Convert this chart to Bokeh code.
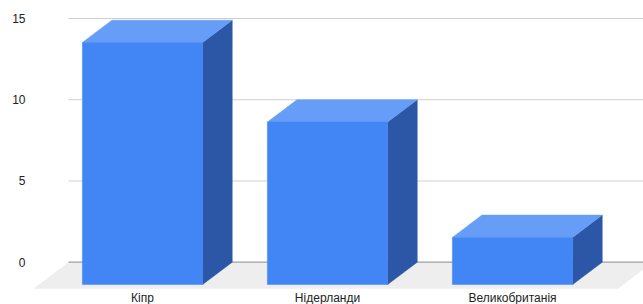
from bokeh.plotting import figure
from bokeh.models import Range1d, FixedTicker, ColumnDataSource
from bokeh.core.properties import value
from bokeh.embed import file_html
from bokeh.resources import INLINE

# ---- data ----
categories = ["Кіпр", "Нідерланди", "Великобританія"]
values = [14.9, 10.0, 2.9]
y_ticks = [0, 5, 10, 15]

# ---- layout / style constants ----
FRONT = "#4285f4"
TOP = "#669df6"
SIDE = "#2b57a6"
FLOOR = "#eeeeee"
GRID = "#d0d0d0"
BASE = "#9e9e9e"

bar_w = 0.65          # width of front face (category units)
bar_dx = 0.16         # depth offset in x (category units)
bar_dy = 1.373        # depth offset in y (value units)
floor_dx = 0.19
floor_dy = 1.64
back_left = -0.40
back_right = 2.76

p = figure(width=643, height=304, output_backend="svg", toolbar_location=None,
           x_range=Range1d(-0.6054, 2.708), y_range=Range1d(-2.605, 16.11),
           x_axis_location=None, min_border_left=30, min_border_right=0,
           min_border_top=0, min_border_bottom=0)
p.outline_line_color = None
p.xgrid.visible = False
p.ygrid.visible = False

ax = p.yaxis[0]
ax.ticker = FixedTicker(ticks=y_ticks)
ax.axis_line_color = None
ax.major_tick_line_color = None
ax.minor_tick_line_color = None
ax.major_tick_out = 0
ax.major_tick_in = 0
ax.major_label_standoff = 5
ax.major_label_text_font = "Liberation Sans"
ax.major_label_text_font_size = "12px"
ax.major_label_text_color = "#222222"

# back-plane gridlines
grid_vals = [t for t in y_ticks if t != 0]
p.segment(x0=[back_left] * len(grid_vals), y0=grid_vals,
          x1=[back_right] * len(grid_vals), y1=grid_vals,
          line_color=GRID, line_width=1)

# floor
p.patch(x=[back_left, back_right, back_right - floor_dx, back_left - floor_dx],
        y=[0, 0, -floor_dy, -floor_dy], fill_color=FLOOR, line_color=None)
# baseline
p.segment(x0=[back_left], y0=[0], x1=[back_right], y1=[0],
          line_color=BASE, line_width=1.2)

# 3D bars
xs = list(range(len(categories)))
top_x, top_y, side_x, side_y = [], [], [], []
for c, v in zip(xs, values):
    l, r = c - bar_w / 2, c + bar_w / 2
    top_x.append([l, r, r + bar_dx, l + bar_dx])
    top_y.append([v - bar_dy, v - bar_dy, v, v])
    side_x.append([r, r + bar_dx, r + bar_dx, r])
    side_y.append([v - bar_dy, v, 0, -bar_dy])

p.patches(xs=side_x, ys=side_y, fill_color=SIDE, line_color=SIDE, line_width=0.5)
p.patches(xs=top_x, ys=top_y, fill_color=TOP, line_color=TOP, line_width=0.5)
src = ColumnDataSource(dict(x=xs, v=values, bottom=[-bar_dy] * len(xs),
                            top=[v - bar_dy for v in values], name=categories,
                            ly=[-floor_dy] * len(xs)))
p.vbar(x="x", width=bar_w, bottom="bottom", top="top", source=src,
       fill_color=FRONT, line_color=FRONT, line_width=0.5)

# category labels
p.text(x="x", y="ly", text="name", source=src, text_align="center",
       text_baseline="alphabetic", y_offset=9.5, text_font=value("Liberation Sans"),
       text_font_size="12px", text_color="#222222")

open("out.html", "w").write(file_html(p, INLINE))
